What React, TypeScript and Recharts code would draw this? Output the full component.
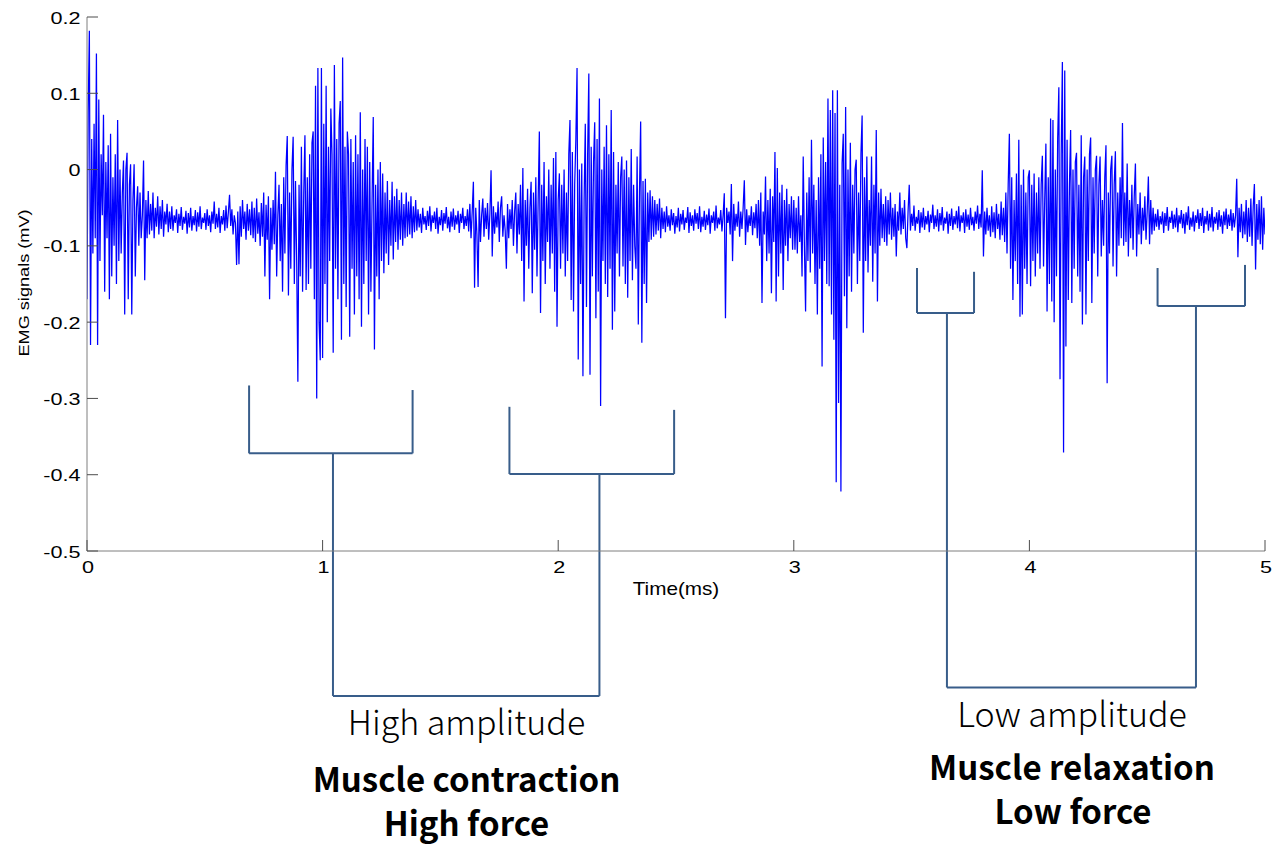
import React from 'react';
import { LineChart, Line, XAxis, YAxis, ReferenceLine } from 'recharts';

const SAMPLE_MS = 0.005;
const SEGMENT_MS = 0.5;

// EMG amplitude in µV, 100 samples per 0.5 ms window
const emg0to05 = [
  -170, 75, 182, -230, 40, -110, 60, -90, 152, -230,
  92, -120, 20, -60, 72, -160, 10, -90, 32, -170,
  47, -140, -10, -100, 20, -150, 65, -120, 0, -110,
  -30, 12, -190, 0, 22, -170, -20, 7, -190, -40,
  7, -140, -50, -22, -100, -30, -90, -60, 12, -145,
  -40, -90, -28, -85, -45, -80, -30, -90, -50, -75,
  -35, -85, -48, -78, -40, -88, -55, -72, -45, -82,
  -55, -78, -48, -80, -60, -70, -52, -83, -58, -74,
  -49, -79, -62, -71, -54, -84, -57, -76, -50, -80,
  -61, -73, -53, -81, -56, -75, -48, -78, -63, -70,
];
const emg05to10 = [
  -57, -79, -52, -74, -60, -82, -55, -71, -42, -78,
  -58, -76, -50, -83, -61, -72, -53, -80, -47, -77,
  -56, -33, -74, -52, -85, -60, -70, -125, -55, -124,
  -48, -88, -40, -78, -55, -92, -45, -80, -52, -86,
  -42, -90, -50, -95, -38, -84, -56, -100, -44, -88,
  -30, -140, -46, -92, -35, -170, -50, -105, -40, -98,
  -3, -140, -60, -20, -120, -45, -160, -10, -110, 5,
  44, -165, -30, -130, 0, 43, -150, -15, -120, -278,
  -20, -140, 30, -160, -30, 45, -158, -10, -150, 20,
  -130, 35, 50, -170, 110, -300, 133, -200, -250, 133,
];
const emg10to15 = [
  -247, 60, -150, 110, -200, 30, -120, 80, 20, -240,
  137, -130, 40, -170, 60, 90, -223, 147, -150, 30,
  -180, 50, 20, -219, 40, -130, 10, -190, 45, -140,
  20, -170, 75, -206, 0, -150, 40, -120, 30, -190,
  10, -160, -40, 69, -236, -20, -140, 0, -170, 10,
  -120, -5, -136, -30, -110, -15, -125, -40, -100, -16,
  -118, -35, -95, -25, -105, -40, -92, -30, -100, -45,
  -90, -30, -88, -42, -85, -35, -90, -48, -82, -40,
  -80, -52, -76, -58, -83, -50, -72, -61, -79, -54,
  -74, -48, -81, -60, -70, -55, -78, -50, -84, -62,
];
const emg15to20 = [
  -73, -53, -80, -57, -71, -49, -77, -62, -82, -55,
  -75, -51, -79, -60, -72, -54, -83, -58, -70, -50,
  -78, -61, -74, -52, -81, -45, -90, -55, -16, -155,
  -50, -85, -154, -40, -95, -60, -38, -88, -50, -78,
  -44, -92, -58, -1, -114, -48, -84, -56, -76, -42,
  -95, -50, -35, -88, -60, -80, -130, -45, -90, -52,
  -78, -40, -100, -55, -30, -110, -45, -85, -20, -120,
  2, -173, -40, -100, -25, -130, -50, -16, -162, -30,
  -105, -10, -140, -40, 50, -188, -20, -120, 10, -150,
  -35, -95, 0, -130, -20, -110, 15, -160, 23, -206,
];
const emg20to25 = [
  -40, -5, -130, -20, -110, 0, -140, -30, -120, 20,
  65, -171, 23, -186, -20, 40, 133, -249, 0, -150,
  8, -271, -40, 60, -180, 20, 126, -269, 30, -140,
  10, 62, -195, 40, -160, 93, -310, 0, -120, 30,
  -150, 58, -167, 20, -130, 78, -210, 23, -186, -20,
  -110, 10, -140, -10, 17, -127, 0, -150, 12, -168,
  -10, -120, 27, -145, -20, -100, -130, 17, -203, -30,
  63, -227, -15, -150, -12, -175, -30, -95, -27, -92,
  -35, -88, -40, -85, -45, -80, -38, -90, -50, -78,
  -55, -82, -48, -75, -60, -80, -52, -73, -57, -84,
];
const emg25to30 = [
  -61, -76, -50, -81, -58, -72, -53, -79, -63, -70,
  -49, -83, -56, -74, -60, -80, -52, -71, -57, -78,
  -48, -82, -62, -75, -54, -79, -59, -73, -51, -84,
  -60, -70, -55, -80, -47, -77, -63, -72, -53, -81,
  -60, -31, -195, -50, -70, -55, -85, -19, -120, -45,
  -80, -58, -75, -42, -88, -55, -78, -50, -14, -99,
  -52, -82, -60, -74, -48, -86, -56, -77, -45, -90,
  -40, -100, -30, -175, -55, -85, -9, -120, -40, -110,
  -25, -162, -35, -95, 23, -173, 2, -140, -30, -110,
  -20, -158, -40, -100, -25, -120, -45, -90, -35, -105,
];
const emg30to35 = [
  -40, -105, -50, -110, -35, -95, -60, -140, 17, -100,
  -186, -30, -120, -10, -135, 39, -110, -20, -150, -40,
  -190, -10, -130, 20, -258, 42, -120, 10, -150, 93,
  -153, 78, -190, 104, -223, 74, -410, 104, -306, -20,
  -422, 8, 47, -166, 82, -208, 0, -140, 35, -160,
  -20, -110, 0, 13, -150, -30, -120, 20, 71, -214,
  -10, -120, 17, -135, -40, -100, 17, -147, -20, -110,
  52, -173, -30, -100, -25, -90, -45, -95, -35, -100,
  -40, -85, -30, -92, -50, -88, -45, -114, -55, -80,
  -30, -85, -50, -78, -40, -90, -103, -55, -20, -80,
];
const emg35to40 = [
  -58, -74, -47, -80, -62, -71, -53, -83, -56, -76,
  -50, -79, -61, -72, -54, -82, -59, -70, -46, -78,
  -60, -75, -52, -81, -57, -73, -49, -80, -63, -71,
  -55, -84, -58, -74, -51, -79, -61, -72, -54, -77,
  -48, -81, -60, -70, -56, -83, -52, -75, -59, -79,
  -50, -73, -62, -80, -55, -71, -47, -78, -58, -76,
  -1, -114, -55, -85, -50, -80, -60, -88, -48, -82,
  -56, -90, -45, -78, -58, -92, -42, -86, -50, -95,
  -30, -110, -20, 47, -130, -10, -171, -40, -120, -5,
  -150, 39, -193, -20, -190, 0, -130, -30, -150, -10,
];
const emg40to45 = [
  -1, -153, -20, -120, -5, -140, -30, -110, -10, -130,
  -20, 18, -127, -40, 34, -186, -10, -150, 67, -173,
  65, -200, 0, -140, 40, 108, -275, 20, 141, -371,
  130, -232, 39, -171, -20, 52, -175, 0, -130, 10,
  22, -140, -20, -160, 45, -203, -10, 17, -190, 0,
  -120, 20, 42, -175, -10, -110, 0, 18, -140, -20,
  17, -114, -40, -100, -10, 32, -280, -30, -110, 0,
  18, -127, -20, 24, -140, -30, -100, -10, -90, 61,
  -100, -30, -95, 8, -114, -40, -90, -20, -105, -35,
  8, -114, -45, -85, -30, -98, -50, -80, -35, -92,
];
const emg45to50 = [
  -55, -9, -98, -40, -85, -50, -80, -58, -75, -52,
  -79, -61, -72, -55, -83, -57, -74, -49, -80, -62,
  -70, -54, -78, -59, -76, -50, -82, -60, -71, -53,
  -77, -58, -84, -56, -73, -48, -79, -63, -75, -55,
  -81, -60, -70, -52, -78, -57, -74, -50, -83, -61,
  -72, -54, -80, -58, -76, -49, -81, -62, -71, -56,
  -79, -53, -75, -60, -84, -55, -73, -51, -78, -59,
  -74, -52, -80, -57, -76, -60, -12, -115, -50, -82,
  -45, -90, -55, -85, -40, -95, -50, -88, -38, -100,
  -48, -19, -131, -45, -92, -40, -98, -35, -105, -50,
];
const emgFinalSample = -85;

const xTicks = [0, 1, 2, 3, 4, 5];
const yTicks = [0.2, 0.1, 0, -0.1, -0.2, -0.3, -0.4, -0.5];

// Annotation brackets, in data units (ms, mV)
const brackets = [
  { left: 0.688, right: 1.382, topLeft: -0.283, topRight: -0.289, bar: -0.372, stem: 1.044 },
  { left: 1.793, right: 2.492, topLeft: -0.311, topRight: -0.315, bar: -0.399, stem: 2.175 },
  { left: 3.523, right: 3.765, topLeft: -0.129, topRight: -0.134, bar: -0.188, stem: 3.65 },
  { left: 4.544, right: 4.915, topLeft: -0.129, topRight: -0.125, bar: -0.179, stem: 4.707 },
];
const bracketFeet = [
  { from: 1.044, to: 2.175, level: -0.69 },
  { from: 3.65, to: 4.707, level: -0.679 },
];

const segments = [
  emg0to05, emg05to10, emg10to15, emg15to20, emg20to25,
  emg25to30, emg30to35, emg35to40, emg40to45, emg45to50,
];
const data = segments.flatMap((seg, s) =>
  seg.map((uv, i) => ({ t: +(s * SEGMENT_MS + i * SAMPLE_MS).toFixed(3), v: uv / 1000 }))
);
data.push({ t: 5, v: emgFinalSample / 1000 });

const BOX = '#7f7f7f';
const TICK = '#4d4d4d';
const TL = 11;
const AXIS_FONT = "'Liberation Sans', Arial, Helvetica, sans-serif";
const NOTE_FONT = "'Noto Sans CJK SC', 'Source Sans Pro', 'Noto Sans', sans-serif";
const BRACKET = '#385D8A';
const TICK_FS = 16;
const STRETCH = 1.35;

const fmt = (v: number) => (Math.abs(v) < 1e-9 ? '0' : v.toFixed(1));

const BottomTick = (p: any) => (
  <g>
    <line x1={p.x} y1={p.y} x2={p.x} y2={p.y - TL} stroke={TICK} strokeWidth={1} />
    <text
      transform={`translate(${p.x + 1},${p.y + 22}) scale(${STRETCH},1)`}
      textAnchor="middle"
      fontFamily={AXIS_FONT}
      fontSize={TICK_FS}
      fill="#000"
    >
      {String(p.payload.value)}
    </text>
  </g>
);
const TopTick = (p: any) => (
  <line x1={p.x} y1={p.y} x2={p.x} y2={p.y + TL} stroke={TICK} strokeWidth={1} />
);
const LeftTick = (p: any) => (
  <g>
    <line x1={p.x} y1={p.y} x2={p.x + TL} y2={p.y} stroke={TICK} strokeWidth={1} />
    <text
      transform={`translate(${p.x - 6.5},${p.y + 6.5}) scale(${STRETCH},1)`}
      textAnchor="end"
      fontFamily={AXIS_FONT}
      fontSize={TICK_FS}
      fill="#000"
    >
      {fmt(p.payload.value)}
    </text>
  </g>
);
const RightTick = (p: any) => (
  <line x1={p.x} y1={p.y} x2={p.x - TL} y2={p.y} stroke={TICK} strokeWidth={1} />
);

export default function App() {
  const refLines: React.ReactNode[] = [];
  brackets.forEach((b, k) => {
    const segs = [
      [[b.left, b.topLeft], [b.left, b.bar]],
      [[b.right, b.topRight], [b.right, b.bar]],
      [[b.left, b.bar], [b.right, b.bar]],
      [[b.stem, b.bar], [b.stem, bracketFeet[k < 2 ? 0 : 1].level]],
    ];
    segs.forEach((sg, j) =>
      refLines.push(
        <ReferenceLine
          key={`b${k}-${j}`}
          xAxisId="b"
          yAxisId="l"
          ifOverflow="visible"
          segment={[{ x: sg[0][0], y: sg[0][1] }, { x: sg[1][0], y: sg[1][1] }]}
          stroke={BRACKET}
          strokeWidth={2}
        />
      )
    );
  });
  bracketFeet.forEach((f, k) =>
    refLines.push(
      <ReferenceLine
        key={`f${k}`}
        xAxisId="b"
        yAxisId="l"
        ifOverflow="visible"
        segment={[{ x: f.from, y: f.level }, { x: f.to, y: f.level }]}
        stroke={BRACKET}
        strokeWidth={2}
      />
    )
  );

  return (
    <div style={{ position: 'absolute', left: 0, top: 0, width: 1272, height: 845, background: '#fff' }}>
      <LineChart width={1272} height={845} data={data} margin={{ top: 17, right: 7, bottom: 264, left: 7 }}>
        <XAxis
          xAxisId="b"
          type="number"
          dataKey="t"
          domain={[0, 5]}
          ticks={xTicks}
          interval={0}
          height={30}
          tickLine={false}
          tickSize={0}
          tickMargin={0}
          axisLine={{ stroke: BOX }}
          tick={BottomTick}
          allowDataOverflow
        />
        <XAxis
          xAxisId="top"
          orientation="top"
          type="number"
          dataKey="t"
          domain={[0, 5]}
          ticks={xTicks}
          interval={0}
          height={0}
          tickLine={false}
          tickSize={0}
          tickMargin={0}
          axisLine={{ stroke: BOX }}
          tick={TopTick}
          allowDataOverflow
        />
        <YAxis
          yAxisId="l"
          type="number"
          domain={[-0.5, 0.2]}
          ticks={yTicks}
          interval={0}
          width={80}
          tickLine={false}
          tickSize={0}
          tickMargin={0}
          axisLine={{ stroke: BOX }}
          tick={LeftTick}
          allowDataOverflow
        />
        <YAxis
          yAxisId="r"
          orientation="right"
          type="number"
          domain={[-0.5, 0.2]}
          ticks={yTicks}
          interval={0}
          width={0}
          tickLine={false}
          tickSize={0}
          tickMargin={0}
          axisLine={{ stroke: BOX }}
          tick={RightTick}
          allowDataOverflow
        />
        <Line
          xAxisId="b"
          yAxisId="l"
          type="linear"
          dataKey="v"
          stroke="#0000ff"
          strokeWidth={1.25}
          dot={false}
          activeDot={false}
          isAnimationActive={false}
        />
        {refLines}
      </LineChart>
      <svg width={1272} height={845} style={{ position: 'absolute', left: 0, top: 0, pointerEvents: 'none' }}>
        <text
          transform="translate(676,595) scale(1.15,1)"
          textAnchor="middle"
          fontFamily={AXIS_FONT}
          fontSize={18}
          fill="#000"
        >
          Time(ms)
        </text>
        <text
          transform="translate(29,283) rotate(-90) scale(1.17,1)"
          textAnchor="middle"
          fontFamily={AXIS_FONT}
          fontSize={15.5}
          fill="#000"
        >
          EMG signals (mV)
        </text>
        <text x={466.5} y={735} textAnchor="middle" fontFamily={NOTE_FONT} fontWeight={300} fontSize={34} fill="#000">High amplitude</text>
        <text x={466.5} y={792} textAnchor="middle" fontFamily={NOTE_FONT} fontWeight={700} fontSize={33} fill="#000">Muscle contraction</text>
        <text x={466.5} y={836} textAnchor="middle" fontFamily={NOTE_FONT} fontWeight={700} fontSize={33} fill="#000">High force</text>
        <text x={1072} y={727} textAnchor="middle" fontFamily={NOTE_FONT} fontWeight={300} fontSize={34} fill="#000">Low amplitude</text>
        <text x={1072} y={780} textAnchor="middle" fontFamily={NOTE_FONT} fontWeight={700} fontSize={33} fill="#000">Muscle relaxation</text>
        <text x={1073} y={824} textAnchor="middle" fontFamily={NOTE_FONT} fontWeight={700} fontSize={33} fill="#000">Low force</text>
      </svg>
    </div>
  );
}
